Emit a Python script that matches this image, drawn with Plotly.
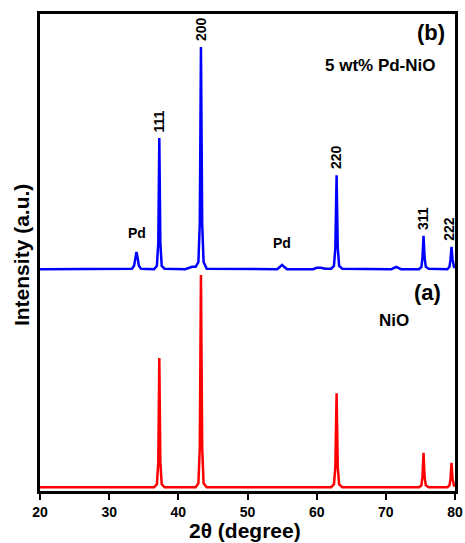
import plotly.graph_objects as go

# NiO (a) pattern: 2-theta and intensity (a.u.)
nio_2theta = [20, 36.5, 36.9, 37.1, 37.25, 37.4, 37.6, 38.0,
              42.5, 42.9, 43.1, 43.27, 43.45, 43.65, 44.1,
              62.1, 62.5, 62.7, 62.88, 63.05, 63.25, 63.7,
              74.8, 75.15, 75.3, 75.45, 75.6, 75.78, 76.2,
              78.9, 79.2, 79.35, 79.5, 79.65, 79.85, 80]
nio_int = [8, 8, 14, 60, 279, 60, 14, 8,
           8, 16, 90, 453, 90, 16, 8,
           8, 14, 50, 205, 50, 14, 8,
           8, 12, 30, 80, 30, 12, 8,
           8, 12, 25, 59, 25, 12, 10]

# 5 wt% Pd-NiO (b) pattern (offset upward)
pdnio_2theta = [20, 33.3, 33.6, 33.8, 33.95, 34.1, 34.3, 34.6,
                36.5, 36.9, 37.1, 37.25, 37.4, 37.6, 38.0,
                41.0, 41.6, 42.0, 42.5, 42.9, 43.1, 43.27, 43.45, 43.65, 44.1,
                54.3, 54.7, 55.0, 55.3, 55.7,
                59.5, 60.0, 60.6, 61.2,
                62.1, 62.5, 62.7, 62.88, 63.05, 63.25, 63.7,
                70.8, 71.5, 72.2,
                74.8, 75.15, 75.3, 75.45, 75.6, 75.78, 76.2,
                78.9, 79.2, 79.35, 79.5, 79.65, 79.85, 80]
pdnio_int = [465, 466, 472, 490, 501, 490, 472, 466,
             465, 472, 520, 740, 520, 472, 466,
             465, 468, 470, 470, 480, 560, 931, 560, 480, 466,
             465, 470, 474, 470, 465,
             465, 468, 468, 466,
             466, 472, 510, 662, 510, 472, 466,
             465, 470, 465,
             465, 470, 490, 535, 490, 470, 466,
             465, 470, 485, 512, 485, 470, 468]

# Peak labels
hkl_labels = ["111", "200", "220", "311", "222"]
hkl_2theta = [37.25, 43.27, 62.88, 75.45, 79.1]
hkl_y = [748, 939, 670, 543, 520]
pd_labels = ["Pd", "Pd"]
pd_2theta = [34.0, 55.0]
pd_y = [520, 500]

x_ticks = [20, 30, 40, 50, 60, 70, 80]

FONT = "Liberation Sans, Arial, sans-serif"

fig = go.Figure()
fig.add_trace(go.Scatter(x=nio_2theta, y=nio_int, mode="lines",
                         line=dict(color="#ff0000", width=2.5), showlegend=False))
fig.add_trace(go.Scatter(x=pdnio_2theta, y=pdnio_int, mode="lines",
                         line=dict(color="#0000ff", width=2.5), showlegend=False))

for lab, xx, yy in zip(hkl_labels, hkl_2theta, hkl_y):
    fig.add_annotation(x=xx, y=yy, text=lab, showarrow=False, textangle=-90,
                       yanchor="bottom", xanchor="center",
                       font=dict(family=FONT, size=14, color="black", weight="bold"))
for lab, xx, yy in zip(pd_labels, pd_2theta, pd_y):
    fig.add_annotation(x=xx, y=yy, text=lab, showarrow=False,
                       yanchor="bottom", xanchor="center",
                       font=dict(family=FONT, size=14, color="black", weight="bold"))

fig.add_annotation(x=0.981, y=0.962, xref="paper", yref="paper", text="(b)",
                   showarrow=False, xanchor="right", yanchor="middle",
                   font=dict(family=FONT, size=22, color="black", weight="bold"))
fig.add_annotation(x=0.959, y=0.893, xref="paper", yref="paper", text="5 wt% Pd-NiO",
                   showarrow=False, xanchor="right", yanchor="middle",
                   font=dict(family=FONT, size=17, color="black", weight="bold"))
fig.add_annotation(x=0.971, y=0.417, xref="paper", yref="paper", text="(a)",
                   showarrow=False, xanchor="right", yanchor="middle",
                   font=dict(family=FONT, size=22, color="black", weight="bold"))
fig.add_annotation(x=0.853, y=0.358, xref="paper", yref="paper", text="NiO",
                   showarrow=False, xanchor="center", yanchor="middle",
                   font=dict(family=FONT, size=17, color="black", weight="bold"))

# Axis titles placed as annotations
fig.add_annotation(x=0.494, y=-0.082, xref="paper", yref="paper", text="2θ (degree)",
                   showarrow=False, xanchor="center", yanchor="middle",
                   font=dict(family=FONT, size=21, color="black", weight="bold"))
fig.add_annotation(x=-0.043, y=0.495, xref="paper", yref="paper", text="Intensity (a.u.)",
                   showarrow=False, xanchor="center", yanchor="middle", textangle=-90,
                   font=dict(family=FONT, size=21, color="black", weight="bold"))

fig.update_layout(
    width=465, height=543,
    margin=dict(l=40, r=10, t=14, b=52),
    plot_bgcolor="white", paper_bgcolor="white",
    font=dict(family=FONT, color="black"),
    xaxis=dict(range=[20, 80], tickvals=x_ticks, ticks="outside", ticklen=6,
               tickwidth=2, tickcolor="black", showgrid=False, zeroline=False,
               showline=True, linewidth=2.5, linecolor="black", mirror=True,
               automargin=False,
               tickfont=dict(family=FONT, size=14, color="black", weight="bold")),
    yaxis=dict(range=[0, 1000], showticklabels=False, ticks="", showgrid=False,
               zeroline=False, showline=True, linewidth=2.5, linecolor="black", mirror=True,
               automargin=False),
)

fig.write_html("out.html", config={"displayModeBar": False},
               post_script="document.body.style.margin='0';document.body.style.overflow='hidden';")
